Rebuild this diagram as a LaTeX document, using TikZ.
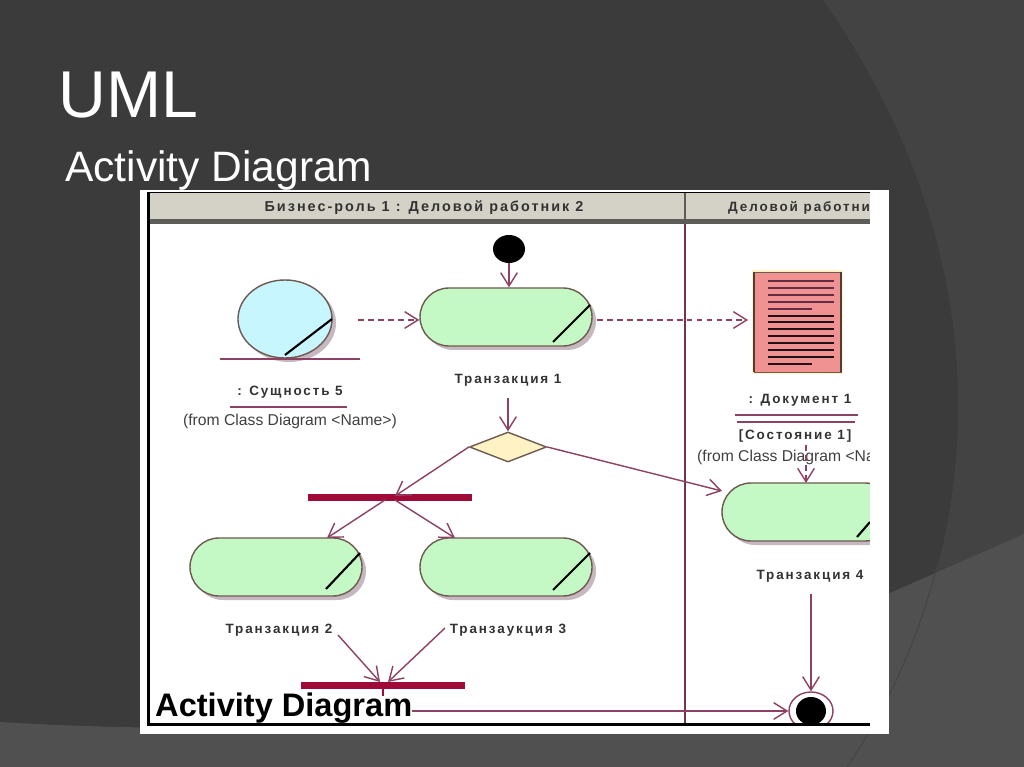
\documentclass[tikz,border=0pt]{standalone}
\usepackage{fontspec}
\setmainfont{Liberation Sans}
\newfontfamily\spacedfont[LetterSpace=14]{Liberation Sans}
\usetikzlibrary{arrows.meta,shapes.geometric,shadows}
\definecolor{slatebg}{HTML}{3B3B3B}
\definecolor{slatearc}{HTML}{434343}
\definecolor{slateband}{HTML}{505050}
\definecolor{laneband}{HTML}{D4D2C6}
\definecolor{laneedge}{HTML}{5C5C58}
\definecolor{flowred}{HTML}{8E4263}
\definecolor{barred}{HTML}{A00A38}
\definecolor{actgreen}{HTML}{C4F8C4}
\definecolor{objblue}{HTML}{C8F6FF}
\definecolor{docred}{HTML}{F09292}
\definecolor{decyellow}{HTML}{FFF2C4}
\definecolor{shapeedge}{HTML}{6E5A50}
\definecolor{softshadow}{HTML}{C6B8C0}

\begin{document}
\begin{tikzpicture}[x=0.03cm,y=-0.03cm,
    flow/.style={draw=flowred,line width=1.2pt,-{Straight Barb[length=4mm,width=5mm]}},
    dashflow/.style={flow,dash pattern=on 5pt off 3.5pt},
    activity/.style={rectangle,rounded corners=.87cm,draw=shapeedge,fill=actgreen,line width=1.2pt,
      minimum width=5.16cm,minimum height=1.74cm,
      drop shadow={shadow xshift=.12cm,shadow yshift=-.12cm,fill=softshadow,opacity=1}},
    syncbar/.style={fill=barred,minimum width=4.92cm,minimum height=.21cm,inner sep=0},
    slash/.style={line width=1.8pt,black},
    lbl/.style={font=\spacedfont\bfseries\fontsize{11.5}{13}\selectfont,text=black!80,inner sep=0},
    lanelbl/.style={lbl,font=\spacedfont\bfseries\fontsize{12.3}{14}\selectfont},
    fromlbl/.style={font=\fontsize{13.4}{15}\selectfont,text=black!75,inner sep=0},
    rulered/.style={draw=flowred,line width=1pt}]
  \useasboundingbox (0,0) rectangle (1024,767);
  % Slide background
  \fill[slatebg] (0,0) rectangle (1024,767);
  \fill[slatearc] (823,0) .. controls (999,250) and (999,540) .. (847,767) -- (1024,767) -- (1024,0) -- cycle;
  \fill[slateband] (0,722) .. controls (300,740) and (600,720) .. (890,593) -- (1024,534) -- (1024,767) -- (0,767) -- cycle;
  \draw[slateband!85!black,line width=.8pt] (938,563) .. controls (915,650) and (885,710) .. (847,767);
  % Slide titles
  \node[anchor=base west,inner sep=0,text=white,font=\fontsize{56.5}{58}\selectfont] (title) at (58,118) {UML};
  \node[anchor=base west,inner sep=0,text=white,font=\fontsize{36.3}{38}\selectfont] (subtitle) at (65,182) {Activity Diagram};
  % Panel and swimlane headers
  \fill[white] (140,190) rectangle (889,734);
  \fill[laneband] (150,193) rectangle (870,219);
  \fill[laneedge] (150,219) rectangle (870,224);
  \draw[black,line width=.7pt] (148,192) -- (870,192);
  \draw[draw=flowred!80!black,line width=1.1pt] (685,224) -- (685,723);
  \draw[laneedge,line width=1.5pt] (685,193) -- (685,224);
  \node[lanelbl] (lane1) at (424,208) {Бизнес-роль 1 : Деловой работник 2};
  \node[lbl,anchor=west] (lane2) at (728,208) {Деловой работник};
  % Entity object
  \node[ellipse,draw=shapeedge,fill=objblue,line width=1.2pt,minimum width=2.82cm,minimum height=2.34cm,inner sep=0,
    drop shadow={shadow xshift=.12cm,shadow yshift=-.12cm,fill=softshadow,opacity=1}] (entity) at (285,319) {};
  \draw[slash] (332,319) -- (285,355);
  \draw[rulered] (220,359) -- (360,359);
  \node[lbl] (entitylbl) at (290,392) {: Сущность 5};
  \draw[rulered] (230,407) -- (347,407);
  \node[fromlbl] (entityfrom) at (290,421) {(from Class Diagram <Name>)};
  % Start and activities
  \node[ellipse,fill=black,minimum width=.96cm,minimum height=.84cm,inner sep=0] (start) at (509,249) {};
  \node[activity] (act1) at (506,317) {};
  \node[activity] (act2) at (276,567) {};
  \node[activity] (act3) at (506,567) {};
  \begin{scope}
    \clip (700,470) rectangle (870,560);
    \node[activity] (act4) at (808,512) {};
  \end{scope}
  \draw[slash] (590,305) -- (553,342);
  \draw[slash] (360,553) -- (326,589);
  \draw[slash] (590,553) -- (553,590);
  \draw[slash] (870,522) -- (857,537);
  \node[lbl] (act1lbl) at (508,380) {Транзакция 1};
  \node[lbl] (act2lbl) at (279,630) {Транзакция 2};
  \node[lbl] (act3lbl) at (508,630) {Транзаукция 3};
  \node[lbl] (act4lbl) at (810,576) {Транзакция 4};
  % Decision and bars
  \node[diamond,draw=shapeedge,fill=decyellow,line width=1.2pt,aspect=2.57,minimum width=2.31cm,minimum height=.9cm,inner sep=0] (decision) at (508,447) {};
  \node[syncbar] (bar1) at (390,497.5) {};
  \node[syncbar] (bar2) at (383,685.5) {};
  % Document object
  \node[rectangle,fill=docred,draw=shapeedge,line width=.8pt,minimum width=2.61cm,minimum height=3cm,inner sep=0,
    preaction={draw=decyellow,line width=4pt}] (doc) at (797.5,322) {};
  \draw[line width=1.5pt,shapeedge!70!black] (754,272) -- (754,372) (841,272) -- (841,372);
  \foreach \y/\x in {281/834, 288/834, 295/834, 302/834, 309/812}{
    \draw[flowred!70!black,line width=1.1pt] (768,\y) -- (\x,\y);
  }
  \foreach \y/\x in {316/834, 322/834, 329/834, 336/834, 343/834, 350/834, 357/834, 364/812}{
    \draw[black!75!flowred,line width=1.8pt] (768,\y) -- (\x,\y);
  }
  \node[lbl] (doclbl) at (800,400) {: Документ 1};
  \draw[rulered] (735,415) -- (858,415);
  \draw[rulered] (737,422) -- (855,422);
  \node[lbl] (docstate) at (795,436) {[Состояние 1]};
  \node[fromlbl,anchor=west] (docfrom) at (697,457) {(from Class Diagram <Na};
  % Final state
  \node[ellipse,fill=black,minimum width=.9cm,minimum height=.84cm,inner sep=0] (finalcore) at (811,711) {};
  \node[ellipse,draw=flowred,line width=1.2pt,minimum width=1.32cm,minimum height=1.14cm,inner sep=0] (final) at (811,711) {};
  % Footer label
  \node[anchor=base west,inner sep=0,text=black,font=\bfseries\fontsize{27.8}{30}\selectfont] (adlabel) at (155,716) {Activity Diagram};
  % Free ends of connectors
  \coordinate (entityout) at (358,320);
  \coordinate (act1out) at (597,320);
  \coordinate (docin) at (748,320);
  \coordinate (act1lblout) at (508,398);
  \coordinate (bar1in) at (395,496);
  \coordinate (bar1outl) at (385,500);
  \coordinate (bar1outr) at (395,500);
  \coordinate (act2in) at (327,538);
  \coordinate (act3in) at (455,538);
  \coordinate (act4in) at (722,491);
  \coordinate (act2lblout) at (338,635);
  \coordinate (act3lblout) at (445,628);
  \coordinate (bar2inl) at (380,682);
  \coordinate (bar2inr) at (388,682);
  \coordinate (bar2top) at (383,689);
  \coordinate (bar2stub) at (383,696);
  \coordinate (act4lblout) at (811,594);
  \coordinate (adout) at (412,711);
  \coordinate (docout) at (806,445);
  \coordinate (act4top) at (806,483);
  % Connectors
  \draw[flow] (start.south) -- (start.south |- act1.north);
  \draw[dashflow] (entityout) -- (entityout -| act1.west);
  \draw[dashflow] (act1out) -- (docin);
  \draw[flow] (act1lblout) -- (decision.north);
  \draw[flow] (decision.west) -- (bar1in);
  \draw[flow] (decision.east) -- (act4in);
  \draw[flow] (bar1outl) -- (act2in);
  \draw[flow] (bar1outr) -- (act3in);
  \draw[flow] (act2lblout) -- (bar2inl);
  \draw[flow] (act3lblout) -- (bar2inr);
  \draw[draw=barred,line width=1pt] (bar2top) -- (bar2stub);
  \draw[dashflow] (docout) -- (act4top);
  \draw[flow] (act4lblout) -- (final.north);
  \draw[flow] (adout) -- (final.west);
  % Panel edges cut off what runs past the frame
  \fill[white] (870,190) rectangle (889,734);
  \fill[white] (140,726) rectangle (889,734);
  \fill[black] (147,192) rectangle (150,726);
  \fill[black] (147,722.5) rectangle (870,726);
\end{tikzpicture}
\end{document}
